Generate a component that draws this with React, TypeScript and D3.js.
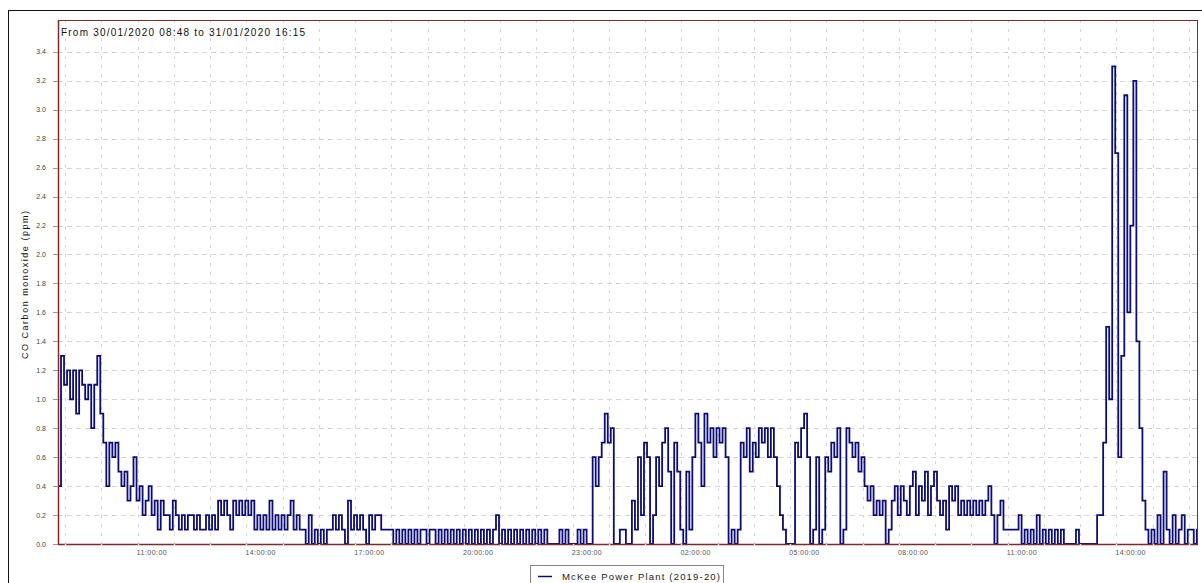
import React from "react";
import * as d3 from "d3";

// CO readings, one value every 5 minutes from 30/01/2020 08:48
const coDay1Morning = [
  0.4, 1.3, 1.1, 1.2, 1.0, 1.2, 0.9, 1.2, 1.1, 1.0, 1.1, 0.8,
  1.1, 1.3, 0.9, 0.7, 0.4, 0.7, 0.6, 0.7, 0.5, 0.4, 0.5, 0.3,
  0.4, 0.6, 0.3, 0.4, 0.2, 0.3, 0.4, 0.2, 0.3, 0.1, 0.3, 0.2,
  0.2, 0.1, 0.3, 0.2, 0.1, 0.2, 0.1, 0.2, 0.2, 0.1, 0.2, 0.1,
  0.1, 0.2, 0.1, 0.2, 0.1, 0.3, 0.2, 0.3, 0.2, 0.1, 0.3, 0.2,
  0.3, 0.2, 0.3, 0.2, 0.3, 0.1, 0.2, 0.1, 0.2, 0.1, 0.3, 0.1,
];
const coDay1Afternoon = [
  0.2, 0.1, 0.2, 0.1, 0.2, 0.3, 0.1, 0.2, 0.1, 0.1, 0.0, 0.2,
  0.0, 0.1, 0.0, 0.1, 0.0, 0.1, 0.1, 0.2, 0.1, 0.2, 0.1, 0.0,
  0.3, 0.1, 0.2, 0.1, 0.2, 0.1, 0.0, 0.2, 0.1, 0.2, 0.2, 0.1,
  0.1, 0.1, 0.1, 0.0, 0.1, 0.0, 0.1, 0.0, 0.1, 0.0, 0.1, 0.0,
  0.1, 0.1, 0.0, 0.1, 0.1, 0.0, 0.1, 0.0, 0.1, 0.0, 0.1, 0.0,
  0.1, 0.0, 0.1, 0.0, 0.1, 0.0, 0.1, 0.0, 0.1, 0.0, 0.1, 0.0,
];
const coDay1Evening = [
  0.1, 0.2, 0.0, 0.1, 0.0, 0.1, 0.0, 0.1, 0.0, 0.1, 0.0, 0.1,
  0.0, 0.1, 0.0, 0.1, 0.0, 0.1, 0.0, 0.0, 0.0, 0.0, 0.1, 0.0,
  0.1, 0.0, 0.0, 0.0, 0.1, 0.0, 0.1, 0.0, 0.0, 0.6, 0.4, 0.6,
  0.7, 0.9, 0.7, 0.8, 0.0, 0.0, 0.1, 0.1, 0.0, 0.0, 0.3, 0.1,
  0.6, 0.2, 0.7, 0.6, 0.0, 0.2, 0.6, 0.4, 0.7, 0.8, 0.5, 0.0,
  0.7, 0.5, 0.1, 0.0, 0.5, 0.1, 0.6, 0.9, 0.7, 0.4, 0.9, 0.7,
];
const coNight = [
  0.8, 0.6, 0.8, 0.7, 0.8, 0.6, 0.0, 0.1, 0.0, 0.1, 0.7, 0.6,
  0.8, 0.5, 0.7, 0.6, 0.8, 0.7, 0.8, 0.6, 0.8, 0.6, 0.4, 0.2,
  0.1, 0.0, 0.0, 0.0, 0.7, 0.6, 0.8, 0.9, 0.6, 0.0, 0.1, 0.6,
  0.0, 0.1, 0.6, 0.5, 0.7, 0.6, 0.8, 0.0, 0.1, 0.8, 0.7, 0.6,
  0.7, 0.5, 0.6, 0.4, 0.3, 0.4, 0.2, 0.3, 0.2, 0.3, 0.0, 0.1,
  0.3, 0.4, 0.2, 0.4, 0.3, 0.2, 0.4, 0.5, 0.2, 0.4, 0.3, 0.5,
];
const coDay2Morning = [
  0.2, 0.4, 0.5, 0.3, 0.2, 0.3, 0.1, 0.4, 0.3, 0.4, 0.2, 0.3,
  0.2, 0.3, 0.2, 0.3, 0.2, 0.3, 0.2, 0.3, 0.4, 0.2, 0.0, 0.2,
  0.3, 0.1, 0.1, 0.1, 0.1, 0.1, 0.2, 0.0, 0.1, 0.0, 0.1, 0.0,
  0.2, 0.0, 0.1, 0.0, 0.1, 0.0, 0.1, 0.0, 0.1, 0.0, 0.0, 0.0,
  0.0, 0.1, 0.0, 0.0, 0.0, 0.0, 0.0, 0.0, 0.2, 0.2, 0.7, 1.5,
  1.0, 3.3, 2.7, 0.6, 1.3, 3.1, 1.6, 2.2, 3.2, 1.4, 0.8, 0.3,
];
const coDay2Afternoon = [
  0.1, 0.0, 0.1, 0.0, 0.2, 0.0, 0.5, 0.1, 0.0, 0.2, 0.0, 0.1,
  0.2, 0.0, 0.1, 0.1, 0.0, 0.1, 0.1,
];

const yTickValues = [0, 0.2, 0.4, 0.6, 0.8, 1.0, 1.2, 1.4, 1.6, 1.8, 2.0, 2.2, 2.4, 2.6, 2.8, 3.0, 3.2, 3.4];
const xTickLabels = ["08:00:00", "11:00:00", "14:00:00", "17:00:00", "20:00:00", "23:00:00", "02:00:00", "05:00:00"];

const seriesName = "McKee Power Plant (2019-20)";
const yTitle = "CO Carbon monoxide (ppm)";
const chartTitle = "From 30/01/2020 08:48  to 31/01/2020 16:15";

const startTime = new Date(2020, 0, 30, 8, 48);
const endTime = new Date(2020, 0, 31, 16, 15);
const stepMinutes = 5;

const W = 1202;
const H = 583;
const plot = { left: 58, right: 1198, top: 20, bottom: 544 };
const font = "'Liberation Sans', Arial, sans-serif";
const axisColor = "#7d2a2a";
const lineColor = "#0c0c78";

export default function App() {
  const values = [
    ...coDay1Morning, ...coDay1Afternoon, ...coDay1Evening,
    ...coNight, ...coDay2Morning, ...coDay2Afternoon,
  ];
  const data = values.map((v, i) => ({
    t: d3.timeMinute.offset(startTime, i * stepMinutes),
    v,
  }));

  const x = d3.scaleTime().domain([startTime, endTime]).range([plot.left, plot.right]);
  const y = d3.scaleLinear().domain([0, 3.62]).range([plot.bottom, plot.top]);

  const line = d3
    .line<{ t: Date; v: number }>()
    .x((d) => x(d.t))
    .y((d) => y(d.v))
    .curve(d3.curveStepAfter);

  const hours = x.ticks(d3.timeHour.every(1)!);
  const fmt = d3.timeFormat("%H:%M:%S");
  const labelled = hours.filter((h) => xTickLabels.includes(fmt(h)));

  return (
    <svg width={W} height={H} style={{ position: "absolute", left: 0, top: 0, background: "#fff" }}>
      <defs>
        <clipPath id="plotClip">
          <rect x={plot.left} y={plot.top} width={plot.right - plot.left} height={plot.bottom - plot.top} />
        </clipPath>
      </defs>
      {/* outer frame */}
      <rect x={8.5} y={10.5} width={1200} height={600} fill="#fff" stroke="#111" strokeWidth={1} />

      {/* grid */}
      {yTickValues.map((v) => (
        <line key={"gy" + v} x1={plot.left} x2={plot.right} y1={Math.round(y(v)) + 0.5} y2={Math.round(y(v)) + 0.5}
          stroke="#d6d6d6" strokeDasharray="5 4" />
      ))}
      {hours.map((h) => (
        <line key={"gx" + h.getTime()} x1={Math.round(x(h)) + 0.5} x2={Math.round(x(h)) + 0.5} y1={plot.top} y2={plot.bottom}
          stroke="#d6d6d6" strokeDasharray="3 6" />
      ))}

      {/* series */}
      <path d={line(data) ?? ""} fill="none" stroke={lineColor} strokeWidth={1.8} clipPath="url(#plotClip)" />

      {/* plot border */}
      <rect x={plot.left + 0.5} y={plot.top + 0.5} width={plot.right - plot.left - 1} height={plot.bottom - plot.top}
        fill="none" stroke={axisColor} strokeWidth={1} />
      <line x1={plot.left} x2={plot.right} y1={plot.bottom + 0.5} y2={plot.bottom + 0.5} stroke={axisColor} strokeWidth={1.5} />
      <line x1={plot.left + 0.5} x2={plot.left + 0.5} y1={plot.top} y2={plot.bottom} stroke={axisColor} strokeWidth={1.5} />

      {/* y axis */}
      {yTickValues.map((v) => (
        <g key={"yt" + v}>
          <line x1={plot.left - 5} x2={plot.left} y1={Math.round(y(v)) + 0.5} y2={Math.round(y(v)) + 0.5} stroke="#999" />
          <text x={plot.left - 12} y={y(v) + 2.5} textAnchor="end" fontFamily={font} fontSize={7} fill="#444">
            {d3.format(".1f")(v)}
          </text>
        </g>
      ))}
      <text transform={`translate(${28},${285}) rotate(-90)`} textAnchor="middle" fontFamily={font} fontSize={9}
        fill="#111" textLength={148} lengthAdjust="spacing">
        {yTitle}
      </text>

      {/* x axis */}
      {hours.map((h) => (
        <line key={"xt" + h.getTime()} x1={Math.round(x(h)) + 0.5} x2={Math.round(x(h)) + 0.5} y1={plot.bottom} y2={plot.bottom + 2}
          stroke="#ddd" strokeWidth={1.5} />
      ))}
      {labelled.map((h) => (
        <text key={"xl" + h.getTime()} x={x(h) - 1} y={555} fontFamily={font} fontSize={7} fill="#555"
          textLength={30} lengthAdjust="spacing">
          {fmt(h)}
        </text>
      ))}

      {/* title */}
      <text x={61} y={36} fontFamily={font} fontSize={10} fill="#111" textLength={244} lengthAdjust="spacing">
        {chartTitle}
      </text>

      {/* legend */}
      <rect x={530.5} y={565.5} width={193} height={30} fill="#fff" stroke="#888" />
      <line x1={538} x2={552} y1={576.5} y2={576.5} stroke={lineColor} strokeWidth={1.5} />
      <text x={562} y={580} fontFamily={font} fontSize={9.5} fill="#222" textLength={158} lengthAdjust="spacing">
        {seriesName}
      </text>
    </svg>
  );
}
